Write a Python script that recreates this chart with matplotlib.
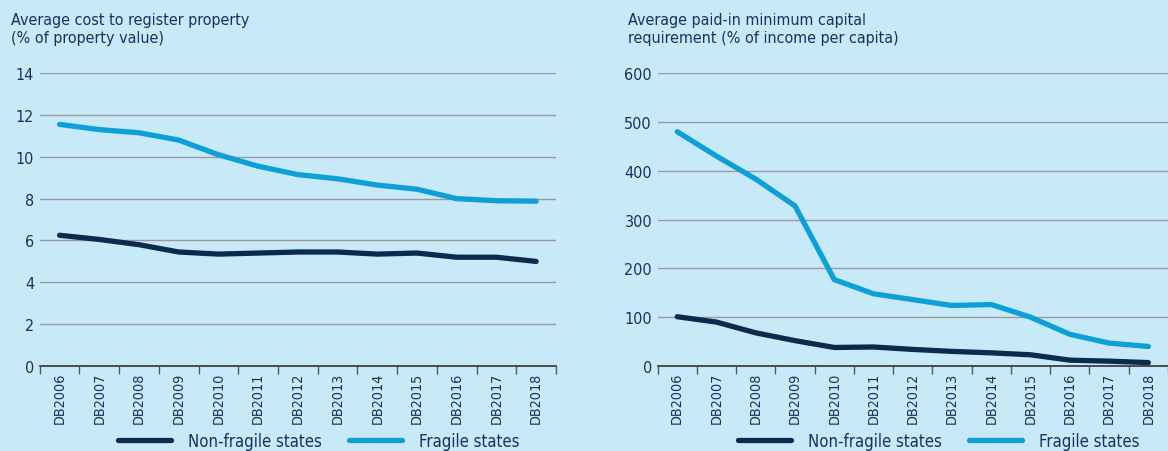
import matplotlib.pyplot as plt
import numpy as np

years = ['DB2006', 'DB2007', 'DB2008', 'DB2009', 'DB2010', 'DB2011', 'DB2012',
         'DB2013', 'DB2014', 'DB2015', 'DB2016', 'DB2017', 'DB2018']

# cost to register property (% of property value)
prop_nonfragile = [6.25, 6.05, 5.8, 5.45, 5.35, 5.4, 5.45, 5.45, 5.35, 5.4, 5.2, 5.2, 5.0]
prop_fragile = [11.55, 11.3, 11.15, 10.8, 10.1, 9.55, 9.15, 8.95, 8.65, 8.45, 8.0, 7.9, 7.88]

# paid-in minimum capital (% of income per capita)
cap_nonfragile = [101, 90, 68, 52, 38, 39, 34, 30, 27, 23, 12, 10, 7]
cap_fragile = [480, 430, 383, 328, 177, 148, 136, 124, 126, 100, 65, 47, 40]

bg = '#c7e9f8'
navy = '#0b2a4f'
cyan = '#0d9fd8'
txt = '#1a3060'

plt.rcParams['font.family'] = ['DejaVu Sans']
plt.rcParams['font.stretch'] = 'condensed'

fig = plt.figure(figsize=(11.68, 4.52), dpi=100, facecolor=bg)


def panel(rect, nonfrag, frag, ymax, ystep, title, title_x, leg_x):
    ax = fig.add_axes(rect, facecolor=bg)
    x = np.arange(len(years))
    ax.plot(x, nonfrag, color=navy, lw=3.8, solid_capstyle='round', label='Non-fragile states')
    ax.plot(x, frag, color=cyan, lw=3.8, solid_capstyle='round', label='Fragile states')
    ax.set_xlim(-0.5, len(years) - 0.5)
    ax.set_ylim(0, ymax)
    ax.set_yticks(np.arange(0, ymax + 1, ystep))
    ax.yaxis.grid(True, color='#9a9a9a', lw=1)
    ax.set_axisbelow(True)
    for s in ['top', 'right', 'left']:
        ax.spines[s].set_visible(False)
    ax.spines['bottom'].set_color('#333333')
    ax.spines['bottom'].set_linewidth(1.2)
    ax.set_xticks(x)
    ax.set_xticklabels(years, rotation=90, fontsize=10.3, color=txt)
    ax.set_xticks(np.arange(-0.5, len(years)), minor=True)
    ax.tick_params(axis='x', which='major', length=0, pad=4)
    ax.tick_params(axis='x', which='minor', length=6, color='#555555', width=1)
    ax.tick_params(axis='y', length=0, labelsize=11.5, labelcolor=txt, pad=4)
    fig.text(title_x, 1 - 13 / 452, title, fontsize=11.5, color=txt,
             ha='left', va='top', linespacing=1.25)
    ax.legend(loc='center left', bbox_to_anchor=(leg_x, 1 - 442 / 452),
              bbox_transform=fig.transFigure, ncol=2, frameon=False,
              fontsize=12, labelcolor=txt, handlelength=3.2, columnspacing=1.6,
              handletextpad=1.0, borderpad=0, borderaxespad=0)
    return ax


panel([0.034, 0.188, 0.442, 0.648], prop_nonfragile, prop_fragile, 14, 2,
      'Average cost to register property\n(% of property value)', 11 / 1168, 118 / 1168)
panel([0.563, 0.188, 0.437, 0.648], cap_nonfragile, cap_fragile, 600, 100,
      'Average paid-in minimum capital\nrequirement (% of income per capita)', 628 / 1168, 738 / 1168)

fig.savefig('out.png', dpi=100, facecolor=bg)
